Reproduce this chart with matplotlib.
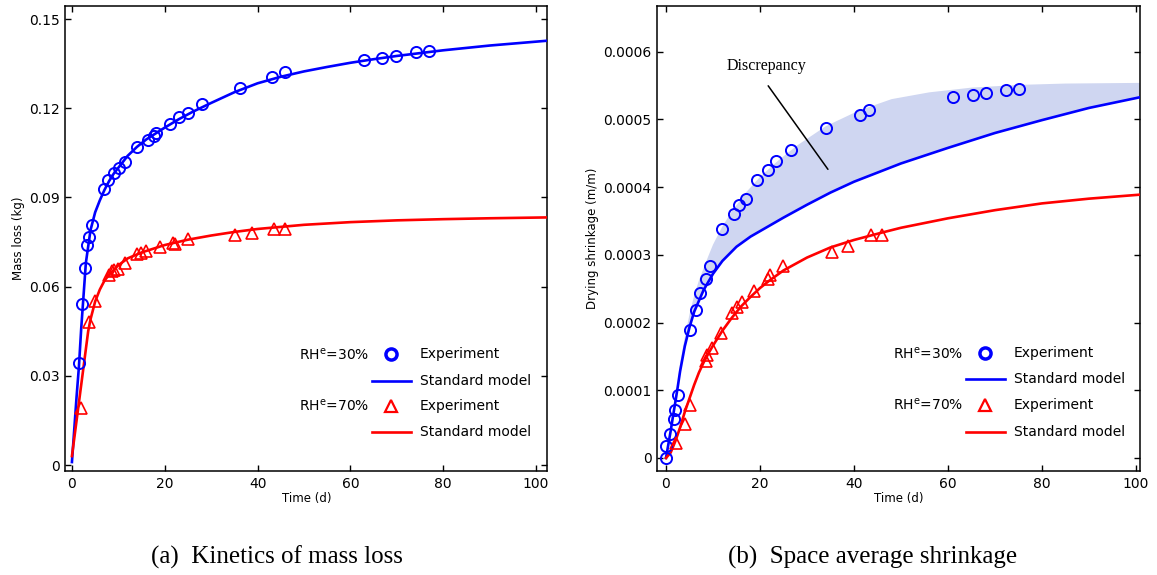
import numpy as np
import matplotlib
matplotlib.use("Agg")
import matplotlib.pyplot as plt

# ---- (a) mass loss ----
mass_exp30_t = [1.6, 2.2, 2.8, 3.3, 3.6, 4.3, 7.0, 7.8, 9.0, 10.1, 11.4, 14.0, 16.3, 17.7, 18.2,
                21.1, 23.0, 24.9, 28.1, 36.2, 43.0, 45.8, 62.9, 66.9, 69.8, 74.1, 76.9]
mass_exp30 = [0.0342, 0.054, 0.0662, 0.074, 0.0766, 0.0806, 0.0928, 0.0958, 0.0983, 0.100, 0.1018,
              0.1071, 0.1092, 0.1107, 0.1116, 0.1147, 0.1170, 0.1185, 0.1214, 0.1269, 0.1304, 0.1322,
              0.1361, 0.1368, 0.1375, 0.1388, 0.1393]
mass_exp70_t = [1.9, 3.7, 4.9, 8.0, 8.6, 9.1, 10.0, 11.4, 14.0, 14.9, 16.0, 18.9, 21.7, 22.2, 25.0,
                35.2, 38.8, 43.6, 45.9]
mass_exp70 = [0.0191, 0.0482, 0.0553, 0.0639, 0.0652, 0.0656, 0.066, 0.068, 0.0709, 0.0714, 0.0721,
              0.0732, 0.0746, 0.0745, 0.076, 0.0774, 0.0781, 0.0795, 0.0795]
mass_mod30_t = [0, 0.5, 1, 1.5, 2, 2.5, 3, 4, 5, 6, 7, 8, 9, 10, 12, 14, 16, 18, 20, 23, 26, 30, 35,
                40, 45, 50, 55, 60, 65, 70, 80, 90, 103]
mass_mod30 = [0.001, 0.012, 0.023, 0.033, 0.046, 0.057, 0.068, 0.079, 0.085, 0.089, 0.0925, 0.0955,
              0.098, 0.100, 0.104, 0.107, 0.1095, 0.1115, 0.1135, 0.1163, 0.1188, 0.1218, 0.1254,
              0.1284, 0.1306, 0.1324, 0.1339, 0.1353, 0.1365, 0.1376, 0.1395, 0.1411, 0.1428]
mass_mod70_t = [0, 0.5, 1, 1.5, 2, 2.5, 3, 3.5, 4, 5, 6, 7, 8, 10, 12, 15, 20, 25, 30, 35, 40, 50, 60,
                70, 80, 90, 103]
mass_mod70 = [0.003, 0.009, 0.015, 0.021, 0.027, 0.033, 0.039, 0.045, 0.049, 0.055, 0.059, 0.062,
              0.064, 0.0672, 0.0695, 0.0715, 0.074, 0.0758, 0.0772, 0.0784, 0.0794, 0.0808, 0.0817,
              0.0823, 0.0827, 0.083, 0.0833]

# ---- (b) drying shrinkage ----
shr_exp30_t = [0.1, 0.1, 0.85, 1.7, 2.0, 2.5, 5.2, 6.3, 7.3, 8.5, 9.3, 11.9, 14.4, 15.6, 17.0, 19.3,
               21.6, 23.5, 26.7, 34.1, 41.2, 43.2, 61.1, 65.3, 68.0, 72.3, 75.1]
shr_exp30 = [0.0, 0.0000177, 0.000035, 0.0000576, 0.0000715, 0.0000927, 0.000189, 0.000218, 0.000243,
             0.000265, 0.000283, 0.000338, 0.000361, 0.000374, 0.000383, 0.000410, 0.000426,
             0.000439, 0.000455, 0.000488, 0.000506, 0.000514, 0.000533, 0.000536, 0.000539,
             0.000544, 0.000545]
shr_exp70_t = [2.1, 4.1, 5.1, 8.5, 8.8, 9.7, 11.7, 14.1, 15.1, 16.2, 18.8, 21.8, 22.2, 25.0, 35.4,
               38.8, 43.7, 46.0]
shr_exp70 = [0.0000222, 0.0000508, 0.0000779, 0.000143, 0.000152, 0.000163, 0.000184, 0.000214,
             0.000223, 0.000231, 0.000247, 0.000265, 0.00027, 0.000283, 0.000304, 0.000313,
             0.000329, 0.00033]
shr_mod30_t = [0, 0.5, 1, 1.5, 2, 2.5, 3, 4, 5, 6, 8, 10, 12, 15, 18, 20, 25, 30, 35, 40, 50, 60, 70,
               80, 90, 101]
shr_mod30 = [0, 0.00002, 0.00004, 0.000062, 0.000083, 0.000105, 0.000128, 0.000165, 0.000193,
             0.000216, 0.000248, 0.000272, 0.000291, 0.000312, 0.000327, 0.000335, 0.000355,
             0.000374, 0.000392, 0.000408, 0.000435, 0.000458, 0.00048, 0.000499, 0.000517, 0.000533]
shr_mod70_t = [0, 1, 2, 3, 4, 5, 6, 7, 8, 9, 10, 12, 14, 16, 18, 20, 22, 25, 30, 35, 40, 46, 50, 60,
               70, 80, 90, 101]
shr_mod70 = [0, 0.000008, 0.000025, 0.000045, 0.000068, 0.000088, 0.000108, 0.000126, 0.000141,
             0.000154, 0.000166, 0.000188, 0.000207, 0.000224, 0.000238, 0.000251, 0.000262,
             0.000277, 0.000296, 0.000311, 0.000322, 0.000333, 0.00034, 0.000354, 0.000366,
             0.000376, 0.000383, 0.000389]
# upper edge of the "discrepancy" band
band_top_t = [2, 3, 4, 5, 6, 7, 8, 9, 10, 12, 14, 17, 20, 24, 28, 34, 41, 48, 56, 65, 75, 85, 101]
band_top = [0.000083, 0.00014, 0.000178, 0.000212, 0.00024, 0.000262, 0.00028, 0.000298, 0.000315,
            0.000342, 0.000364, 0.000392, 0.000415, 0.00044, 0.000462, 0.00049, 0.000513, 0.00053,
            0.00054, 0.000547, 0.000551, 0.000553, 0.000554]

x_ticks = [0, 20, 40, 60, 80, 100]
mass_ticks = [0, 0.03, 0.06, 0.09, 0.12, 0.15]
mass_ticklabels = ["0", "0.03", "0.06", "0.09", "0.12", "0.15"]
shr_ticks = [0, 0.0001, 0.0002, 0.0003, 0.0004, 0.0005, 0.0006]
shr_ticklabels = ["0", "0.0001", "0.0002", "0.0003", "0.0004", "0.0005", "0.0006"]

BLUE = "#0000ff"
RED = "#ff0000"
BAND = "#cfd6f1"


def style_axes(ax):
    for s in ax.spines.values():
        s.set_linewidth(1.1)
    ax.tick_params(direction="in", length=4.5, width=1.0, top=True, right=True,
                   labelsize=10, pad=4)
    ax.set_xticks(x_ticks)


def draw_series(ax, t30, y30, m30_t, m30, t70, y70, m70_t, m70):
    ax.plot(m30_t, m30, color=BLUE, lw=1.9, zorder=3)
    ax.plot(m70_t, m70, color=RED, lw=1.9, zorder=3)
    ax.plot(t30, y30, "o", ms=8, mfc="none", mec=BLUE, mew=1.4, zorder=4, clip_on=False)
    ax.plot(t70, y70, "^", ms=8, mfc="none", mec=RED, mew=1.2, zorder=4)


def draw_legend(ax, x_txt, x_mk, x_lab, x_l0, x_l1, rows_y):
    tr = ax.transAxes
    kw = dict(transform=tr, fontsize=10, va="center")
    y1, y2, y3, y4 = rows_y
    ax.text(x_txt, y1, r"RH$^{\rm e}$=30%", **kw)
    ax.plot([x_mk], [y1], "o", transform=tr, ms=8, mfc="none", mec=BLUE, mew=2.5)
    ax.text(x_lab, y1, "Experiment", **kw)
    ax.plot([x_l0, x_l1], [y2, y2], transform=tr, color=BLUE, lw=1.9)
    ax.text(x_lab, y2, "Standard model", **kw)
    ax.text(x_txt, y3, r"RH$^{\rm e}$=70%", **kw)
    ax.plot([x_mk], [y3], "^", transform=tr, ms=9, mfc="none", mec=RED, mew=1.6)
    ax.text(x_lab, y3, "Experiment", **kw)
    ax.plot([x_l0, x_l1], [y4, y4], transform=tr, color=RED, lw=1.9)
    ax.text(x_lab, y4, "Standard model", **kw)


fig = plt.figure(figsize=(11.57, 5.75), dpi=100)
ax1 = fig.add_axes([0.0564, 0.1809, 0.4166, 0.8092])
ax2 = fig.add_axes([0.5681, 0.1809, 0.4172, 0.8092])

# (a)
draw_series(ax1, mass_exp30_t, mass_exp30, mass_mod30_t, mass_mod30,
            mass_exp70_t, mass_exp70, mass_mod70_t, mass_mod70)
ax1.set_xlim(-1.44, 102.4)
ax1.set_ylim(-0.002, 0.1545)
ax1.set_yticks(mass_ticks)
ax1.set_yticklabels(mass_ticklabels)
style_axes(ax1)
ax1.set_xlabel("Time (d)", fontsize=8.5, labelpad=1)
ax1.set_ylabel("Mass loss (kg)", fontsize=8.5, labelpad=3)
draw_legend(ax1, 0.484, 0.6766, 0.735, 0.636, 0.7166, (0.2508, 0.194, 0.1403, 0.0832))

# (b)
band_low = [v for t, v in zip(shr_mod30_t, shr_mod30) if t >= band_top_t[0]]
band_low_t = [t for t in shr_mod30_t if t >= band_top_t[0]]
ax2.fill(np.concatenate([band_top_t, band_low_t[::-1]]),
         np.concatenate([band_top, band_low[::-1]]),
         color=BAND, lw=0, zorder=1)
draw_series(ax2, shr_exp30_t, shr_exp30, shr_mod30_t, shr_mod30,
            shr_exp70_t, shr_exp70, shr_mod70_t, shr_mod70)
ax2.set_xlim(-1.85, 100.85)
ax2.set_ylim(-0.0000192, 0.000668)
ax2.set_yticks(shr_ticks)
ax2.set_yticklabels(shr_ticklabels)
style_axes(ax2)
ax2.set_xlabel("Time (d)", fontsize=8.5, labelpad=1)
ax2.set_ylabel("Drying shrinkage (m/m)", fontsize=8.5, labelpad=3)
ax2.annotate("", xy=(34.8, 0.000423), xytext=(21.4, 0.000553),
             arrowprops=dict(arrowstyle="-", color="black", lw=1.1))
ax2.text(21.3, 0.000579, "Discrepancy", family="Liberation Serif", fontsize=11.5,
         ha="center", va="center")
draw_legend(ax2, 0.488, 0.679, 0.7386, 0.6388, 0.7202, (0.2525, 0.197, 0.1428, 0.0839))

fig.text(0.239, 0.031, "(a)  Kinetics of mass loss", family="Liberation Serif",
         fontsize=18, ha="center", va="center")
fig.text(0.754, 0.031, "(b)  Space average shrinkage", family="Liberation Serif",
         fontsize=18, ha="center", va="center")

fig.savefig("out.png", dpi=100)
